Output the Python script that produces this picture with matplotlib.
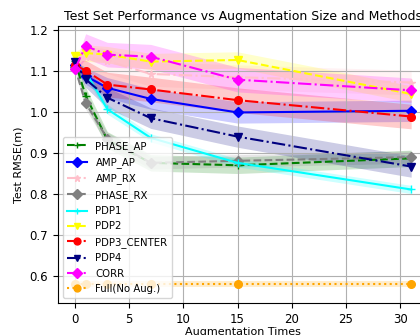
import matplotlib.pyplot as plt
import numpy as np

aug_times = [0, 1, 3, 7, 15, 31]

# mean test RMSE per method
phase_ap = [1.125, 1.040, 0.932, 0.876, 0.870, 0.887]
amp_ap = [1.115, 1.088, 1.059, 1.032, 0.999, 1.003]
amp_rx = [1.110, 1.135, 1.124, 1.093, 1.085, 1.072]
phase_rx = [1.110, 1.022, 0.935, 0.876, 0.881, 0.890]
pdp1 = [1.110, 1.098, 1.007, 0.937, 0.876, 0.811]
pdp2 = [1.136, 1.144, 1.140, 1.123, 1.127, 1.044]
pdp3_center = [1.115, 1.101, 1.067, 1.055, 1.029, 0.989]
pdp4 = [1.123, 1.080, 1.035, 0.985, 0.940, 0.867]
corr = [1.104, 1.161, 1.140, 1.135, 1.079, 1.053]
full_no_aug = [0.580, 0.580, 0.580, 0.580, 0.580, 0.580]

# spread (std) per method
phase_ap_std = [0.010, 0.020, 0.020, 0.020, 0.020, 0.020]
amp_ap_std = [0.010, 0.020, 0.025, 0.025, 0.026, 0.026]
amp_rx_std = [0.010, 0.025, 0.030, 0.030, 0.030, 0.030]
phase_rx_std = [0.010, 0.015, 0.015, 0.015, 0.015, 0.015]
pdp1_std = [0.010, 0.012, 0.012, 0.010, 0.010, 0.010]
pdp2_std = [0.010, 0.020, 0.020, 0.020, 0.020, 0.020]
pdp3_center_std = [0.010, 0.025, 0.030, 0.030, 0.030, 0.030]
pdp4_std = [0.010, 0.020, 0.025, 0.025, 0.026, 0.026]
corr_std = [0.010, 0.030, 0.030, 0.030, 0.030, 0.030]
full_no_aug_std = [0.008, 0.008, 0.008, 0.008, 0.008, 0.008]

series = [
    ("PHASE_AP", phase_ap, phase_ap_std, "green", "--", "+"),
    ("AMP_AP", amp_ap, amp_ap_std, "blue", "-", "D"),
    ("AMP_RX", amp_rx, amp_rx_std, "pink", "-.", "*"),
    ("PHASE_RX", phase_rx, phase_rx_std, "gray", "--", "D"),
    ("PDP1", pdp1, pdp1_std, "cyan", "-", "+"),
    ("PDP2", pdp2, pdp2_std, "yellow", "--", "v"),
    ("PDP3_CENTER", pdp3_center, pdp3_center_std, "red", "-.", "o"),
    ("PDP4", pdp4, pdp4_std, "navy", "-.", "v"),
    ("CORR", corr, corr_std, "magenta", "-.", "D"),
    ("Full(No Aug.)", full_no_aug, full_no_aug_std, "orange", ":", "o"),
]

fig = plt.figure(figsize=(4.2, 3.35), dpi=100)
ax = fig.add_axes([0.138, 0.0955, 0.881, 0.827])

x = np.array(aug_times)
for name, mean, std, color, ls, mk in series:
    mean = np.array(mean)
    std = np.array(std)
    ax.plot(x, mean, linestyle=ls, marker=mk, color=color, label=name,
            linewidth=1.5, markersize=5.5)
    ax.fill_between(x, mean - std, mean + std, color=color, alpha=0.2, linewidth=0)

ax.set_ylim(0.534, 1.21)
ax.grid(True)
ax.set_title("Test Set Performance vs Augmentation Size and Methods", fontsize=9, pad=4)
ax.set_xlabel("Augmentation Times", fontsize=8, labelpad=1)
ax.set_ylabel("Test RMSE(m)", fontsize=8)
ax.tick_params(labelsize=8.5)
ax.legend(loc="lower left", fontsize=7.3, labelspacing=0.53, markerscale=0.9)

plt.savefig("out.png", dpi=100)
